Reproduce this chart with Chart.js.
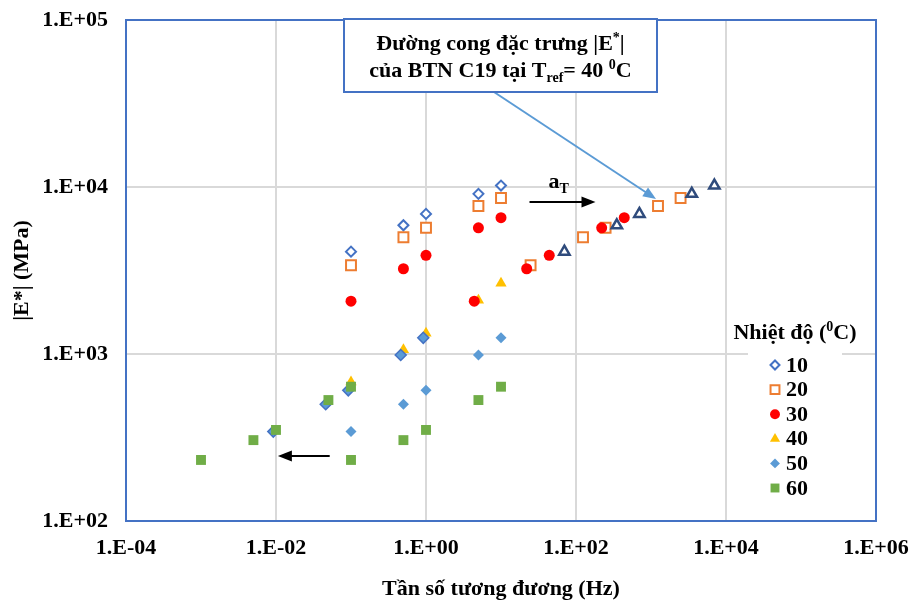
<!DOCTYPE html>
<html>
<head>
<meta charset="utf-8">
<script src="https://cdn.jsdelivr.net/npm/chart.js@4.4.1/dist/chart.umd.min.js"></script>
<style>
html, body { margin: 0; padding: 0; background: #fff; }
#wrap { width: 913px; height: 607px; }
</style>
</head>
<body>
<div id="wrap"><canvas id="masterCurve" width="913" height="607"></canvas></div>
<script>
// test frequencies (Hz) and measured |E*| (MPa) per temperature
var freqHz = [0.1, 0.5, 1, 5, 10];
var e10 = [4100, 5900, 6900, 9100, 10200];
var e20 = [3400, 5000, 5700, 7700, 8600];
var e30 = [2070, 3240, 3900, 5700, 6550];
var e40 = [680, 1060, 1330, 2100, 2650];
var e50 = [343, 500, 606, 986, 1250];
var e60 = [232, 305, 351, 530, 637];

// reduced frequencies after shifting to Tref = 40 C
var fShift10 = [70, 350, 700, 3500, 7000];
var fShift20 = [24.8, 124, 248, 1240, 2480];
var fShift30 = [4.4, 22, 44, 220, 440];
var fShift50 = [0.0092, 0.046, 0.092, 0.46, 0.92];
var fShift60 = [0.001, 0.005, 0.01, 0.05, 0.1];

var xTicks = [1e-4, 1e-2, 1, 1e2, 1e4, 1e6];
var yTicks = [1e2, 1e3, 1e4, 1e5];
var legendLabels = ['10', '20', '30', '40', '50', '60'];

var FONT = "'Liberation Serif', 'Times New Roman', serif";
var FS = 22;

function pts(xs, ys) {
    return xs.map(function (x, i) { return { x: x, y: ys[i] }; });
}

function sciLabel(v) {
    var e = Math.round(Math.log10(v));
    var a = Math.abs(e);
    return '1.E' + (e < 0 ? '-' : '+') + (a < 10 ? '0' : '') + a;
}

var styles = {
    s10: { pointStyle: 'rectRot',  pointRadius: 5,   pointBorderWidth: 2,   pointBorderColor: '#4472C4', pointBackgroundColor: '#fff' },
    s20: { pointStyle: 'rect',     pointRadius: 7,   pointBorderWidth: 2,   pointBorderColor: '#ED7D31', pointBackgroundColor: '#fff' },
    s30: { pointStyle: 'circle',   pointRadius: 5.5, pointBorderWidth: 0,   pointBorderColor: '#FF0000', pointBackgroundColor: '#FF0000' },
    s40: { pointStyle: 'triangle', pointRadius: 6.5, pointBorderWidth: 0,   pointBorderColor: '#FFC000', pointBackgroundColor: '#FFC000' },
    s50: { pointStyle: 'rectRot',  pointRadius: 5.5, pointBorderWidth: 0,   pointBorderColor: '#5B9BD5', pointBackgroundColor: '#5B9BD5' },
    s60: { pointStyle: 'rect',     pointRadius: 7,   pointBorderWidth: 0,   pointBorderColor: '#70AD47', pointBackgroundColor: '#70AD47' },
    t10: { pointStyle: 'triangle', pointRadius: 6,   pointBorderWidth: 2.5, pointBorderColor: '#2F4B7C', pointBackgroundColor: '#fff' },
    t50: { pointStyle: 'rectRot',  pointRadius: 5.5, pointBorderWidth: 1.5, pointBorderColor: '#4472C4', pointBackgroundColor: '#5B9BD5' }
};

function ds(label, data, st, inLegend) {
    var d = { label: label, data: data, showLine: false, inLegend: inLegend };
    for (var k in st) d[k] = st[k];
    d.pointHoverRadius = d.pointRadius;
    return d;
}

var datasets = [
    ds('10', pts(freqHz, e10), styles.s10, true),
    ds('20', pts(freqHz, e20), styles.s20, true),
    ds('30', pts(freqHz, e30), styles.s30, true),
    ds('40', pts(freqHz, e40), styles.s40, true),
    ds('50', pts(freqHz, e50), styles.s50, true),
    ds('60', pts(freqHz, e60), styles.s60, true),
    ds('20 shift', pts(fShift20, e20), styles.s20, false),
    ds('10 shift', pts(fShift10, e10), styles.t10, false),
    ds('30 shift', pts(fShift30, e30), styles.s30, false),
    ds('50 shift', pts(fShift50, e50), styles.t50, false),
    ds('60 shift', pts(fShift60, e60), styles.s60, false)
];
// later series paint on top
datasets.forEach(function (d, i) { d.order = datasets.length - i; });

function font(size) { return 'bold ' + size + 'px ' + FONT; }

// text with super/subscript pieces: [text, shift] where shift 1 = sup, -1 = sub
function runsWidth(ctx, runs, size) {
    var w = 0;
    runs.forEach(function (r) {
        ctx.font = font(r[1] ? Math.round(size * 0.65) : size);
        w += ctx.measureText(r[0]).width;
    });
    return w;
}
function drawRuns(ctx, runs, x, y, size, align) {
    var w = runsWidth(ctx, runs, size);
    var cx = align === 'center' ? x - w / 2 : x;
    ctx.textAlign = 'left';
    ctx.textBaseline = 'alphabetic';
    runs.forEach(function (r) {
        var s = r[1] ? Math.round(size * 0.65) : size;
        ctx.font = font(s);
        var dy = r[1] === 1 ? -size * 0.38 : (r[1] === -1 ? size * 0.22 : 0);
        ctx.fillText(r[0], cx, y + dy);
        cx += ctx.measureText(r[0]).width;
    });
}

function arrow(ctx, x1, y1, x2, y2, color, lw, head) {
    var ang = Math.atan2(y2 - y1, x2 - x1);
    ctx.save();
    ctx.strokeStyle = color; ctx.fillStyle = color; ctx.lineWidth = lw;
    ctx.beginPath();
    ctx.moveTo(x1, y1);
    ctx.lineTo(x2 - Math.cos(ang) * head * 0.8, y2 - Math.sin(ang) * head * 0.8);
    ctx.stroke();
    ctx.beginPath();
    ctx.moveTo(x2, y2);
    ctx.lineTo(x2 - Math.cos(ang) * head + Math.sin(ang) * head * 0.4, y2 - Math.sin(ang) * head - Math.cos(ang) * head * 0.4);
    ctx.lineTo(x2 - Math.cos(ang) * head - Math.sin(ang) * head * 0.4, y2 - Math.sin(ang) * head + Math.cos(ang) * head * 0.4);
    ctx.closePath();
    ctx.fill();
    ctx.restore();
}

var overlay = {
    id: 'overlay',
    beforeDatasetsDraw: function (chart) {
        var a = chart.chartArea, ctx = chart.ctx;
        ctx.save();
        ctx.strokeStyle = '#4472C4';
        ctx.lineWidth = 2;
        ctx.strokeRect(a.left, a.top, a.right - a.left, a.bottom - a.top);
        ctx.restore();
    },
    afterDatasetsDraw: function (chart) {
        var ctx = chart.ctx, xs = chart.scales.x, ys = chart.scales.y;
        ctx.save();

        // shift arrows
        arrow(ctx, xs.getPixelForValue(24), ys.getPixelForValue(8130),
                   xs.getPixelForValue(182), ys.getPixelForValue(8130), '#000', 2, 14);
        ctx.fillStyle = '#000';
        drawRuns(ctx, [['a', 0], ['T', -1]], xs.getPixelForValue(24) + 19, ys.getPixelForValue(8130) - 14, FS, 'left');
        arrow(ctx, xs.getPixelForValue(0.052), ys.getPixelForValue(245),
                   xs.getPixelForValue(0.0106), ys.getPixelForValue(245), '#000', 2, 14);

        // callout box and leader
        var bx = 344, by = 19, bw = 313, bh = 73;
        arrow(ctx, 494, by + bh, xs.getPixelForValue(1240) - 2, ys.getPixelForValue(7700) - 7, '#5B9BD5', 2, 13);
        ctx.fillStyle = '#fff';
        ctx.fillRect(bx, by, bw, bh);
        ctx.strokeStyle = '#4472C4';
        ctx.lineWidth = 2;
        ctx.strokeRect(bx, by, bw, bh);
        ctx.fillStyle = '#000';
        drawRuns(ctx, [['Đường cong đặc trưng |E', 0], ['*', 1], ['|', 0]], bx + bw / 2, 50, FS, 'center');
        drawRuns(ctx, [['của BTN C19 tại T', 0], ['ref', -1], ['= 40 ', 0], ['0', 1], ['C', 0]], bx + bw / 2, 77, FS, 'center');

        // legend
        ctx.fillStyle = '#fff';
        ctx.fillRect(748, 346, 94, 156);
        ctx.fillStyle = '#000';
        drawRuns(ctx, [['Nhiệt độ (', 0], ['0', 1], ['C)', 0]], 795, 339, FS, 'center');
        var items = chart.data.datasets.filter(function (d) { return d.inLegend; });
        items.forEach(function (d, i) {
            var y = 365 + i * 24.6;
            ctx.fillStyle = d.pointBackgroundColor;
            ctx.strokeStyle = d.pointBorderColor;
            ctx.lineWidth = d.pointBorderWidth;
            Chart.helpers.drawPoint(ctx, {
                pointStyle: d.pointStyle, radius: d.pointRadius * 0.9,
                rotation: 0, borderWidth: d.pointBorderWidth
            }, 775, y);
            ctx.fillStyle = '#000';
            ctx.font = font(FS);
            ctx.textAlign = 'left';
            ctx.textBaseline = 'middle';
            ctx.fillText(legendLabels[i], 786, y + 1);
        });
        ctx.restore();
    }
};

var tickFont = { family: FONT, size: FS, weight: 'bold', lineHeight: 1.2 };

new Chart(document.getElementById('masterCurve'), {
    type: 'scatter',
    data: { datasets: datasets },
    options: {
        responsive: false,
        animation: false,
        layout: { padding: { top: 20, right: 37, left: 0, bottom: 0 } },
        plugins: { legend: { display: false }, tooltip: { enabled: false } },
        scales: {
            x: {
                type: 'logarithmic', min: 1e-4, max: 1e6,
                afterBuildTicks: function (s) { s.ticks = xTicks.map(function (v) { return { value: v }; }); },
                afterFit: function (s) { s.height = 86; },
                // invisible tick marks give the label gap without inflating edge padding
                grid: { color: '#d9d9d9', lineWidth: 2, drawTicks: true, tickLength: 14, tickColor: 'rgba(0,0,0,0)' },
                border: { display: false },
                ticks: { callback: sciLabel, color: '#000', padding: 0, maxRotation: 0, autoSkip: false, font: tickFont },
                title: { display: true, text: 'Tần số tương đương (Hz)', color: '#000',
                         padding: { top: 0, bottom: 4 }, font: tickFont }
            },
            y: {
                type: 'logarithmic', min: 1e2, max: 1e5,
                afterBuildTicks: function (s) { s.ticks = yTicks.map(function (v) { return { value: v }; }); },
                afterFit: function (s) { s.width = 126; },
                grid: { color: '#d9d9d9', lineWidth: 2, drawTicks: true, tickLength: 18, tickColor: 'rgba(0,0,0,0)' },
                border: { display: false },
                ticks: { callback: sciLabel, color: '#000', padding: 0, autoSkip: false, font: tickFont },
                title: { display: true, text: '|E*| (MPa)', color: '#000',
                         padding: { top: 9, bottom: 0 }, font: tickFont }
            }
        }
    },
    plugins: [overlay]
});
</script>
</body>
</html>
